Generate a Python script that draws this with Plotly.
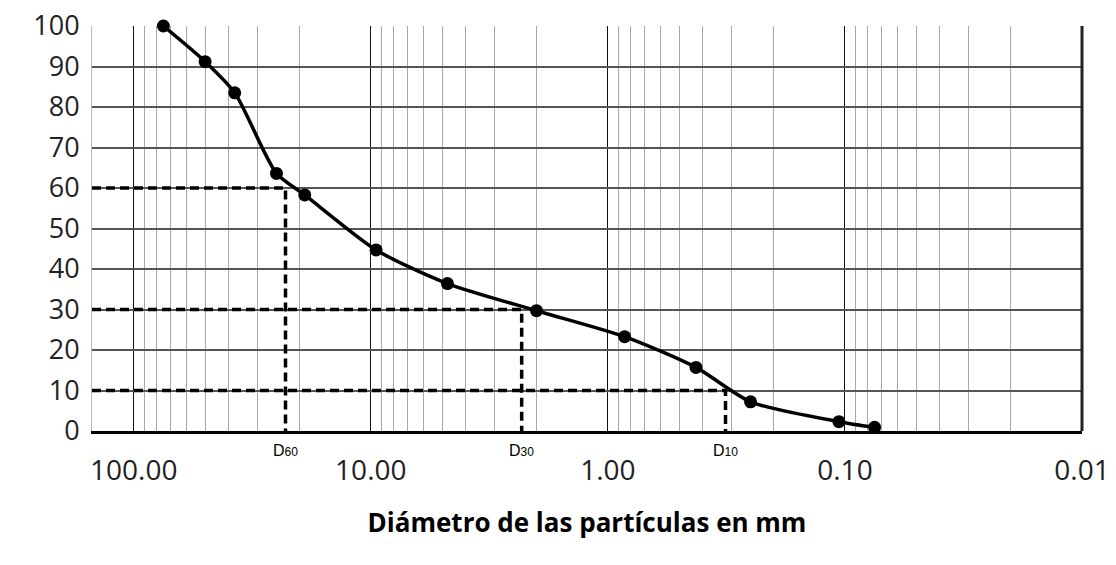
import math
import plotly.graph_objects as go

# Grain-size distribution (sieve analysis)
diametro_mm = [75, 50, 37.5, 25, 19, 9.5, 4.75, 2.0, 0.85, 0.425, 0.25, 0.106, 0.075]
pasa_pct = [100, 91.2, 83.5, 63.6, 58.3, 44.7, 36.4, 29.7, 23.3, 15.7, 7.2, 2.3, 0.9]

# Characteristic diameters
d_labels = ["60", "30", "10"]
d_pct = [60, 30, 10]
d_mm = [22.9, 2.31, 0.319]

x_ticks = [100, 10, 1, 0.1, 0.01]
x_ticktext = ["100.00", "10.00", "1.00", "0.10", "0.01"]
X_MAX, X_MIN = 150, 0.01

minor_vals = [m * 10 ** e for e in range(-2, 3) for m in range(2, 10)
              if X_MIN < m * 10 ** e < X_MAX]

FONT = "Open Sans"

fig = go.Figure()

# dashed guide lines for D60, D30, D10
for lbl, p, d in zip(d_labels, d_pct, d_mm):
    fig.add_trace(go.Scatter(
        x=[X_MAX, d, d], y=[p, p, -1.5], mode="lines",
        line=dict(color="black", width=3.5, dash="9px,5px"),
        hoverinfo="skip", showlegend=False, cliponaxis=False))
    fig.add_annotation(
        x=math.log10(d), y=0, yshift=-19, showarrow=False,
        text=f"D<span style='font-size:12px'>{lbl}</span>",
        font=dict(family="Liberation Sans", size=16, color="black"))

# gradation curve
fig.add_trace(go.Scatter(
    x=diametro_mm, y=pasa_pct, mode="lines+markers",
    line=dict(color="black", width=3.5, shape="spline", smoothing=0.7),
    marker=dict(color="black", size=13),
    cliponaxis=False, showlegend=False))

fig.update_xaxes(
    type="log",
    range=[math.log10(X_MAX), math.log10(X_MIN)],
    tickvals=x_ticks, ticktext=x_ticktext,
    showgrid=True, gridcolor="#111111", gridwidth=1,
    minor=dict(tickvals=minor_vals, showgrid=True, gridcolor="#a8a8a8", gridwidth=1,
               ticks=""),
    showline=True, linecolor="black", linewidth=3,
    ticks="", ticklabelstandoff=12, automargin=False,
    tickfont=dict(family=FONT, size=28, color="#222222"),
    title=dict(text="<b>Diámetro de las partículas en mm</b>",
               font=dict(family=FONT, size=26, color="black"), standoff=28),
    zeroline=False,
)
fig.update_yaxes(
    range=[0, 100], dtick=10,
    showgrid=True, gridcolor="#555555", gridwidth=1.5,
    showline=True, linecolor="#bbbbbb", linewidth=1,
    ticks="", ticklabelstandoff=6, automargin=False,
    tickfont=dict(family=FONT, size=27, color="#222222"),
    zeroline=False,
)

# right-hand frame line
fig.add_shape(type="line", xref="paper", yref="paper", x0=1, x1=1, y0=0, y1=1,
              line=dict(color="#222222", width=3))

fig.update_layout(
    width=1116, height=565,
    margin=dict(l=92, r=34, t=26, b=134),
    paper_bgcolor="white", plot_bgcolor="white",
)

fig.write_html("out.html")
